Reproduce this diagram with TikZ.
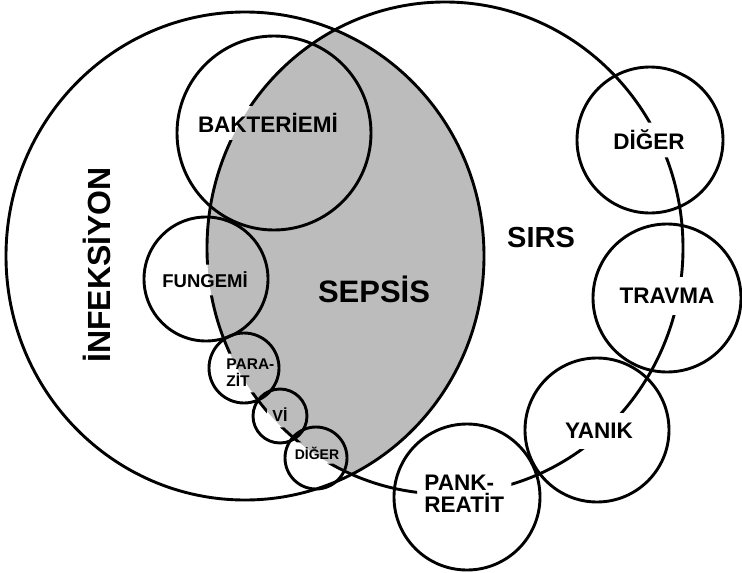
\documentclass[tikz,border=0pt]{standalone}
\usepackage{fontspec}
\setmainfont{Liberation Sans}

\tikzset{every picture/.style={line width=2.9pt}}
\tikzset{
  ring/.style={draw, circle, inner sep=0pt},
  lbl/.style={font=\bfseries\fontsize{#1}{#1}\selectfont, inner sep=6pt, align=left},
  lbl/.default=22.5,
}
\definecolor{sepsisgray}{RGB}{188,188,188}

\begin{document}
\begin{tikzpicture}[x=1pt,y=-1pt]
\useasboundingbox (0,0) rectangle (742,573);

%Shape: Shaded Intersection [SEPSIS]
\begin{scope}
\clip (245,256) ellipse [x radius=239, y radius=244];
\fill [sepsisgray] (445,248) ellipse [x radius=238, y radius=246];
\end{scope}

%Shape: Circle [INFEKSIYON]
\draw (245,256) ellipse [x radius=239, y radius=244];

%Shape: Circles, infection side
\node [ring, minimum size=194pt] (bakC) at (274,133) {};
\node [ring, minimum size=124pt] (funC) at (206,279) {};
\node [ring, minimum size=70pt] (parC) at (244,368) {};
\node [ring, minimum size=54pt] (viC) at (280,416) {};
\node [ring, minimum size=62pt] (digaC) at (316,458) {};

%Shape: Circles, SIRS side
\node [ring, minimum size=146pt] (digbC) at (650,140) {};
\node [ring, minimum size=148pt] (traC) at (667,298) {};
\node [ring, minimum size=144pt] (yanC) at (597,430) {};
\node [ring, minimum size=146pt] (panC) at (467,497) {};

% Text Node
\node [lbl] (bak) at (268,123) {BAKTERİEMİ};
% Text Node
\node [lbl=18.5] (fun) at (205,280) {FUNGEMİ};
% Text Node
\node [lbl=15.5, inner sep=4pt, anchor=west] (par) at (221,373) {PARA-\\[1.5pt]ZİT};
% Text Node
\node [lbl=16, inner sep=4pt] (vi) at (280,415) {Vİ};
% Text Node
\node [lbl=14, inner sep=3pt] (diga) at (317,453) {DİĞER};
% Text Node
\node [lbl] (digb) at (649,140) {DİĞER};
% Text Node
\node [lbl, inner sep=10pt] (tra) at (667,296) {TRAVMA};
% Text Node
\node [lbl, inner sep=9pt] (yan) at (599,431) {YANIK};
% Text Node
\node [lbl, anchor=west] (pan) at (417,494) {PANK-\\REATİT};
% Text Node
\node [lbl=29] (sirs) at (541,238) {SIRS};
% Text Node
\node [lbl=31] (sepsis) at (374,289) {SEPSİS};
% Text Node
\node [lbl=32, rotate=90] (inf) at (97,265) {İNFEKSİYON};

%Shape: Ellipse [SIRS], broken at the labels
\begin{scope}[even odd rule]
\clip (-10,-10) rectangle (752,583)
  (bak.south west) rectangle (bak.north east)
  (fun.south west) rectangle (fun.north east)
  (par.south west) rectangle (par.north east)
  (vi.south west) rectangle (vi.north east)
  (diga.south west) rectangle (diga.north east)
  (digb.south west) rectangle (digb.north east)
  (tra.south west) rectangle (tra.north east)
  (yan.south west) rectangle (yan.north east)
  (pan.south west) rectangle (pan.north east);
\draw (445,248) ellipse [x radius=238, y radius=246];
\end{scope}

\end{tikzpicture}
\end{document}
